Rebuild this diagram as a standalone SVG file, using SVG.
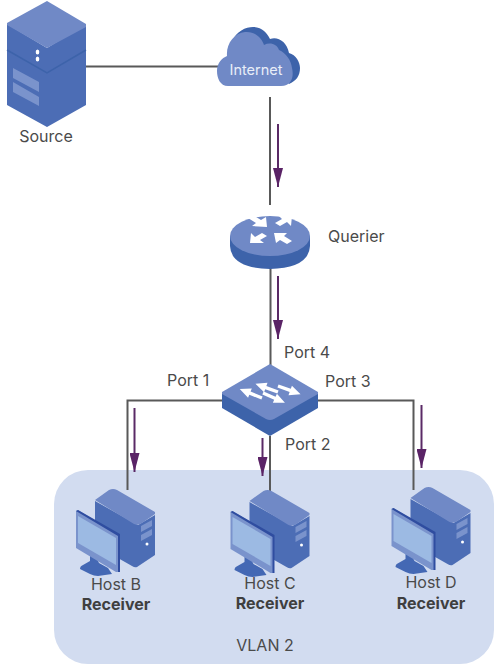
<svg xmlns="http://www.w3.org/2000/svg" width="501" height="667" viewBox="0 0 501 667">
<style>
text{font-family:"Inter","Liberation Sans",sans-serif;font-size:16px;fill:#4a4a4a}
.b{font-weight:700;fill:#3f3f3f}
.m{text-anchor:middle}
.c{fill:none;stroke:#595959;stroke-width:2}
.a{fill:none;stroke:#5a2a66;stroke-width:2;marker-end:url(#ah)}
.l{fill:#7089c6}.d{fill:#4c6db5}.k{fill:#3d63aa}.w{fill:#fff}
</style>
<defs>
<marker id="ah" markerUnits="userSpaceOnUse" markerWidth="20" markerHeight="10" refX="19" refY="5" orient="auto">
<path d="M0 0L19 5L0 10Z" fill="#5a2366"/>
</marker>
<path id="sw" class="w" d="M0 -1.700H13V-5L24 0L13 5V1.700H0Z"/>
<g id="pc">
<path class="d" d="M95 501L138 525L155 515V555L137 567Q135 568 132 566L95 545Z"/>
<path class="l" d="M95 500L109 490Q113 488 117 490L155 512V514L142 523Q138 526 134 524Z"/>
<path d="M141 526L152 520V526L141 532ZM141 535L152 529V535L141 541Z" fill="#7a93cc"/>
<circle cx="147" cy="544" r="1.500" class="w"/>
<path d="M90 555L97 559L99 563L108 568L112 574L98 576Q94 576 90 574L80 569Q80 566 83 565L90 561Z" fill="#4468b4"/>
<path d="M76 511L78 510L119 535V572L116 572L76 548Z" fill="#7a93cc"/>
<path d="M76 511L78 510L120 534V572H118V536Z" fill="#2f4da0"/>
<path d="M78 516L116 538V565L78 543Z" fill="#9cbae3"/>
</g>
</defs>
<rect id="vlan-area" x="54" y="470" width="440" height="194" rx="34" fill="#d2dcf0"/>
<g id="connectors">
<path class="c" d="M86 66.500H220"/>
<path class="c" d="M270 97V205M270.500 268V366"/>
<path class="c" d="M222 400.500H127.500V490"/>
<path class="c" d="M270 436V491"/>
<path class="c" d="M318 400.500H413.500V490"/>
<path class="a" d="M278 124V187"/>
<path class="a" d="M278 276V339"/>
<path class="a" d="M134.500 408V472"/>
<path class="a" d="M262.500 438V476"/>
<path class="a" d="M421.500 405V468"/>
</g>
<g id="source">
<path class="d" d="M7 24L47 48L86 24V105L47 127L7 105Z"/>
<path class="l" d="M47 1L86 24V27L47 48L7 25V23Z"/>
<path d="M7 50L47 73L86 50" fill="none" stroke="#3d63aa" stroke-width="1.500"/>
<path d="M13 68L39 82V92L13 78ZM13 82L39 97V106L13 92Z" fill="#7a93cc"/>
<ellipse cx="37.500" cy="52" rx="1.800" ry="2.500" class="w"/><ellipse cx="37.500" cy="59" rx="1.800" ry="2.500" class="w"/>
<text x="46" y="142" class="m">Source</text>
</g>
<g id="internet">
<path class="k" d="M232 42C236 31 246 27 253 27C262 27 267 33 270 39C277 36 287 41 289 53C296 55 300 62 300 68C300 76 296 81 289 84L270 60Z"/>
<path class="l" d="M228 86C220 86 217 78 217 71C217 63 222 58 227 56C226 44 234 33 245 32C255 31 262 38 264 45C270 42 277 44 279 50C286 53 291 60 292 68C294 76 292 86 281 86Z"/>
<text x="256" y="75" class="m" style="fill:#e9eef8;font-size:14.500px">Internet</text>
</g>
<g id="querier">
<path class="k" d="M230 236V246Q231 268 270 269Q309 268 310 246V236Z"/>
<ellipse class="l" cx="270" cy="236" rx="40" ry="20"/>
<g class="w">
<path d="M267 227L266 217L261 220L253 215L248 218L256 223L252 226Z"/>
<path d="M292 216L279 216L282 219L275 223L280 226L287 222L291 226Z"/>
<path d="M250 243L264 243L260 240L267 236L262 233L255 237L251 233Z"/>
<path d="M274 233L287 233L284 236L292 241L287 244L280 240L276 243Z"/>
</g>
<text x="328" y="242">Querier</text>
</g>
<g id="switch">
<path class="k" d="M222 392V408L270 436L318 408V392Z"/>
<path class="l" d="M270 364L318 392V394L274 419Q270 421 266 419L222 394V392Z"/>
<use href="#sw" transform="translate(262,398) rotate(202)"/>
<use href="#sw" transform="translate(278,392) rotate(200)"/>
<use href="#sw" transform="translate(278,386) rotate(20)"/>
<use href="#sw" transform="translate(263,393) rotate(24)"/>
<text x="167" y="386">Port 1</text><text x="284" y="358">Port 4</text>
<text x="325" y="387">Port 3</text><text x="285" y="450">Port 2</text>
</g>
<g id="host-b"><use href="#pc"/><text x="116" y="590" class="m">Host B</text><text x="116" y="610" class="m b">Receiver</text></g>
<g id="host-c"><use href="#pc" x="154.500" y="1"/><text x="270" y="588.500" class="m">Host C</text><text x="270" y="608.500" class="m b">Receiver</text></g>
<g id="host-d"><use href="#pc" x="315.500" y="-2"/><text x="431" y="588" class="m">Host D</text><text x="431" y="609" class="m b">Receiver</text></g>
<text id="vlan-label" x="265" y="651" class="m">VLAN 2</text>
</svg>
